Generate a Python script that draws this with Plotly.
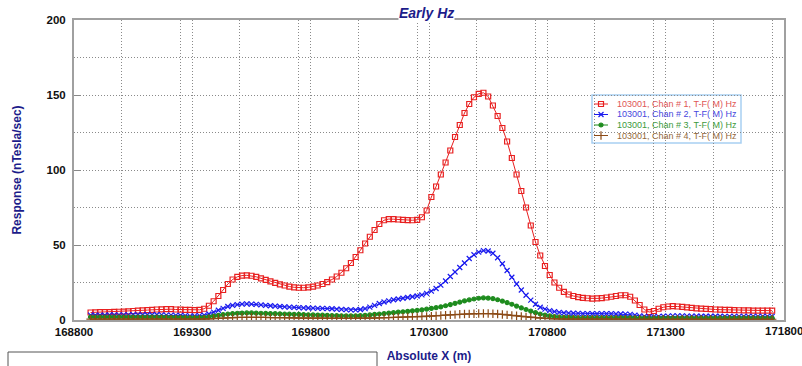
import plotly.graph_objects as go

# ---- data (x every 20 m, 168870 .. 171750) ----
x_start = 168870
x_step = 20

chan1 = [
    5.0, 5.1, 5.2, 5.3, 5.3, 5.4, 5.5, 5.6, 5.8, 6.0,
    6.2, 6.4, 6.6, 6.8, 7.0, 7.1, 7.2, 7.2, 7.0, 6.9,
    6.8, 6.7, 6.6, 6.8, 7.5, 9.5, 12.5, 16, 20, 24,
    27, 28.8, 29.6, 29.8, 29.5, 28.8, 27.8, 26.8, 25.8, 24.8,
    23.8, 23.0, 22.3, 21.8, 21.5, 21.5, 21.8, 22.3, 23.0, 24.0,
    25.3, 27.0, 29.0, 31.5, 34.5, 38.0, 42.0, 46.5, 51.0, 55.5,
    60, 64, 66.5, 67.3, 67.2, 67.0, 66.8, 66.6, 66.5, 66.8,
    68.5, 73, 82, 89, 97, 105, 113, 122, 130, 138,
    144, 148.5, 150.8, 151.5, 149, 143, 136, 128, 119, 108,
    97, 86, 75, 63, 52, 43, 36, 30, 25, 21.5,
    18.8, 17, 16, 15.3, 14.8, 14.5, 14.3, 14.4, 14.6, 15.0,
    15.5, 16, 16.5, 16.5, 15.5, 13, 10, 7, 5.3, 6.0,
    7.5, 8.5, 9.0, 9.2, 9.0, 8.7, 8.4, 8.1, 7.8, 7.6,
    7.4, 7.2, 7.0, 6.9, 6.8, 6.7, 6.6, 6.5, 6.4, 6.4,
    6.3, 6.3, 6.2, 6.2, 6.2,
]
chan2 = [
    3.3, 3.3, 3.3, 3.3, 3.4, 3.4, 3.4, 3.4, 3.4, 3.5,
    3.5, 3.5, 3.5, 3.5, 3.5, 3.4, 3.3, 3.2, 3.1, 3.0,
    2.9, 2.8, 2.8, 2.9, 3.2, 4.0, 5.2, 6.5, 7.8, 9.0,
    9.8, 10.3, 10.6, 10.7, 10.6, 10.4, 10.1, 9.8, 9.5, 9.2,
    9.0, 8.8, 8.6, 8.4, 8.2, 8.1, 8.0, 7.9, 7.8, 7.7,
    7.6, 7.5, 7.3, 7.1, 6.9, 6.8, 6.8, 7.0, 7.6, 8.6,
    9.8, 11.0, 12.0, 12.8, 13.5, 14.0, 14.5, 15.0, 15.5, 16.0,
    16.8, 17.8, 19.2, 21.0, 23.3, 26.0, 29.0, 32.0, 35.0, 38.0,
    41.0, 43.5, 45.3, 46.2, 46.0, 44.5, 41.5, 37.5, 33.0, 28.5,
    24.0, 20.0, 16.5, 13.3, 10.5, 8.5, 7.2, 6.3, 5.6, 5.1,
    4.8, 4.6, 4.5, 4.4, 4.3, 4.3, 4.2, 4.2, 4.2, 4.2,
    4.2, 4.1, 4.0, 3.9, 3.7, 3.3, 2.8, 2.4, 2.2, 2.2,
    2.3, 2.5, 2.6, 2.7, 2.7, 2.7, 2.6, 2.6, 2.6, 2.5,
    2.5, 2.5, 2.5, 2.5, 2.4, 2.4, 2.4, 2.4, 2.4, 2.4,
    2.4, 2.4, 2.4, 2.4, 2.4,
]
chan3 = [
    2.0, 2.0, 2.0, 2.0, 2.0, 2.0, 2.0, 2.0, 2.0, 2.0,
    2.0, 2.0, 2.0, 2.0, 2.0, 1.9, 1.9, 1.8, 1.8, 1.7,
    1.7, 1.6, 1.6, 1.6, 1.8, 2.1, 2.6, 3.1, 3.6, 4.0,
    4.3, 4.5, 4.6, 4.7, 4.7, 4.6, 4.5, 4.4, 4.3, 4.2,
    4.1, 4.0, 3.9, 3.8, 3.7, 3.6, 3.5, 3.4, 3.3, 3.2,
    3.1, 3.0, 2.9, 2.8, 2.7, 2.7, 2.8, 2.9, 3.1, 3.4,
    3.7, 4.0, 4.3, 4.6, 4.9, 5.2, 5.5, 5.8, 6.1, 6.4,
    6.8, 7.2, 7.7, 8.2, 8.8, 9.5, 10.3, 11.1, 11.9, 12.7,
    13.4, 14.0, 14.5, 14.7, 14.6, 14.2, 13.5, 12.6, 11.6, 10.5,
    9.3, 8.1, 7.0, 5.9, 4.9, 4.0, 3.3, 2.7, 2.3, 2.0,
    1.8, 1.7, 1.6, 1.5, 1.5, 1.5, 1.5, 1.5, 1.5, 1.5,
    1.5, 1.5, 1.5, 1.5, 1.5, 1.4, 1.3, 1.2, 1.1, 1.1,
    1.2, 1.2, 1.2, 1.2, 1.2, 1.2, 1.2, 1.2, 1.2, 1.2,
    1.2, 1.2, 1.2, 1.2, 1.2, 1.2, 1.2, 1.2, 1.2, 1.2,
    1.2, 1.2, 1.2, 1.2, 1.2,
]
chan4 = [
    0.6, 0.6, 0.6, 0.6, 0.6, 0.6, 0.6, 0.6, 0.6, 0.6,
    0.6, 0.6, 0.6, 0.6, 0.6, 0.6, 0.5, 0.5, 0.5, 0.5,
    0.5, 0.5, 0.5, 0.5, 0.6, 0.7, 0.9, 1.1, 1.3, 1.5,
    1.6, 1.7, 1.8, 1.8, 1.8, 1.8, 1.7, 1.7, 1.6, 1.6,
    1.5, 1.5, 1.4, 1.4, 1.3, 1.3, 1.3, 1.2, 1.2, 1.2,
    1.1, 1.1, 1.1, 1.0, 1.0, 1.0, 1.0, 1.1, 1.1, 1.2,
    1.3, 1.4, 1.5, 1.6, 1.7, 1.8, 1.9, 2.0, 2.1, 2.2,
    2.3, 2.4, 2.6, 2.8, 3.0, 3.2, 3.4, 3.6, 3.8, 4.0,
    4.1, 4.2, 4.3, 4.3, 4.3, 4.2, 4.0, 3.7, 3.4, 3.1,
    2.8, 2.4, 2.1, 1.8, 1.5, 1.3, 1.1, 0.9, 0.8, 0.7,
    0.6, 0.6, 0.6, 0.6, 0.6, 0.6, 0.6, 0.6, 0.6, 0.6,
    0.6, 0.6, 0.6, 0.6, 0.6, 0.5, 0.5, 0.5, 0.5, 0.5,
    0.5, 0.5, 0.5, 0.5, 0.5, 0.5, 0.5, 0.5, 0.5, 0.5,
    0.5, 0.5, 0.5, 0.5, 0.5, 0.5, 0.5, 0.5, 0.5, 0.5,
    0.5, 0.5, 0.5, 0.5, 0.5,
]
xs = [x_start + x_step * i for i in range(len(chan1))]

names = [
    "103001, Chan # 1, T-F( M) Hz",
    "103001, Chan # 2, T-F( M) Hz",
    "103001, Chan # 3, T-F( M) Hz",
    "103001, Chan # 4, T-F( M) Hz",
]
series = [chan1, chan2, chan3, chan4]
colors = ["#e82020", "#1a1aee", "#1e8c1e", "#8b4a16"]
text_colors = ["#e05555", "#4646dd", "#3c9a3c", "#94683c"]
symbols = ["square-open", "x-thin-open", "circle", "cross-thin-open"]
sizes = [5, 5, 4, 6]

X_MIN, X_MAX = 168800, 171800

FONT = "Liberation Sans, Arial, sans-serif"
W, H = 802, 366
L, R, T, B = 74, 18, 20, 46
PW, PH = W - L - R, H - T - B


def px_x(px):
    return (px - L) / PW


def px_y(py):
    return (H - B - py) / PH


fig = go.Figure()
for ys, nm, c, sym, sz in zip(series, names, colors, symbols, sizes):
    fig.add_trace(go.Scatter(
        x=xs, y=ys, mode="lines+markers", name=nm, showlegend=False,
        line=dict(color=c, width=1),
        marker=dict(symbol=sym, size=sz, color=c, line=dict(color=c, width=1.2)),
    ))

tick_font = dict(family=FONT, size=11.5, color="#111111")
title_col = "#1c1c8a"
grid_dash = "1px,2px"

fig.update_layout(
    width=W, height=H,
    margin=dict(l=L, r=R, t=T, b=B),
    paper_bgcolor="white", plot_bgcolor="white",
    showlegend=False,
    xaxis=dict(
        range=[X_MIN, X_MAX], dtick=500, tick0=X_MIN, automargin=False,
        showgrid=True, gridcolor="#8a8a8a", griddash=grid_dash, gridwidth=1,
        minor=dict(dtick=250, showgrid=True, gridcolor="#8a8a8a", griddash=grid_dash),
        showline=True, linecolor="#a0a0a0", linewidth=2, mirror=True,
        ticks="", tickfont=tick_font, zeroline=False,
        tickformat="d", tickprefix="<b>", ticksuffix="</b>",
        title=dict(text="<b>Absolute X (m)</b>", font=dict(family=FONT, size=12, color=title_col), standoff=15),
    ),
    yaxis=dict(
        range=[0, 200], dtick=50, automargin=False,
        showgrid=True, gridcolor="#8a8a8a", griddash=grid_dash, gridwidth=1,
        minor=dict(dtick=25, showgrid=True, gridcolor="#8a8a8a", griddash=grid_dash),
        showline=True, linecolor="#a0a0a0", linewidth=2, mirror=True,
        ticks="inside", ticklen=7, tickcolor="#888888",
        tickfont=tick_font, zeroline=False, ticklabelstandoff=4,
        tickprefix="<b>", ticksuffix="</b>",
        title=dict(text="<b>Response (nTesla/sec)</b>", font=dict(family=FONT, size=12, color=title_col), standoff=22),
    ),
    # overlay axes in fractional plot units for the hand-built legend samples
    xaxis2=dict(overlaying="x", range=[0, 1], visible=False, anchor="y2"),
    yaxis2=dict(overlaying="y", range=[0, 1], visible=False, anchor="x2"),
)

# last x tick label, which runs off the page edge in the original
fig.add_annotation(
    text=f"<b>{X_MAX}</b>", xref="x", yref="paper", x=X_MAX, y=0,
    xanchor="center", yanchor="top", yshift=-3, showarrow=False,
    font=tick_font,
)

# title sitting on the top frame line
fig.add_annotation(
    text="<b><i>Early Hz</i></b>", xref="paper", yref="paper", x=px_x(426), y=1.0,
    xanchor="center", yanchor="middle", yshift=7, showarrow=False, bgcolor="white",
    font=dict(family=FONT, size=14, color=title_col), borderpad=0,
)

# legend box
fig.add_shape(type="rect", xref="paper", yref="paper",
              x0=px_x(592), x1=px_x(741), y0=px_y(143), y1=px_y(95),
              line=dict(color="#a8cff2", width=1.5), fillcolor="white", layer="between")
entry_y = [104, 114.5, 125, 135.5]
for i, (nm, c, tc, sym, sz) in enumerate(zip(names, colors, text_colors, symbols, sizes)):
    yy = px_y(entry_y[i])
    fig.add_shape(type="line", xref="paper", yref="paper",
                  x0=px_x(594), x1=px_x(608), y0=yy, y1=yy,
                  line=dict(color=c, width=1), layer="above")
    fig.add_trace(go.Scatter(
        x=[px_x(601)], y=[yy], xaxis="x2", yaxis="y2", mode="markers",
        showlegend=False, hoverinfo="skip",
        marker=dict(symbol=sym, size=sz, color=c, line=dict(color=c, width=1.2)),
    ))
    fig.add_annotation(
        text=nm, xref="paper", yref="paper", x=px_x(615), y=yy,
        xanchor="left", yanchor="middle", showarrow=False,
        font=dict(family=FONT, size=9, color=tc),
    )

# empty box at lower-left
fig.add_shape(type="rect", xref="paper", yref="paper",
              x0=px_x(8), x1=px_x(377), y0=px_y(352), y1=px_y(372),
              line=dict(color="#555555", width=1), fillcolor="rgba(0,0,0,0)")

fig.write_html("out.html")
